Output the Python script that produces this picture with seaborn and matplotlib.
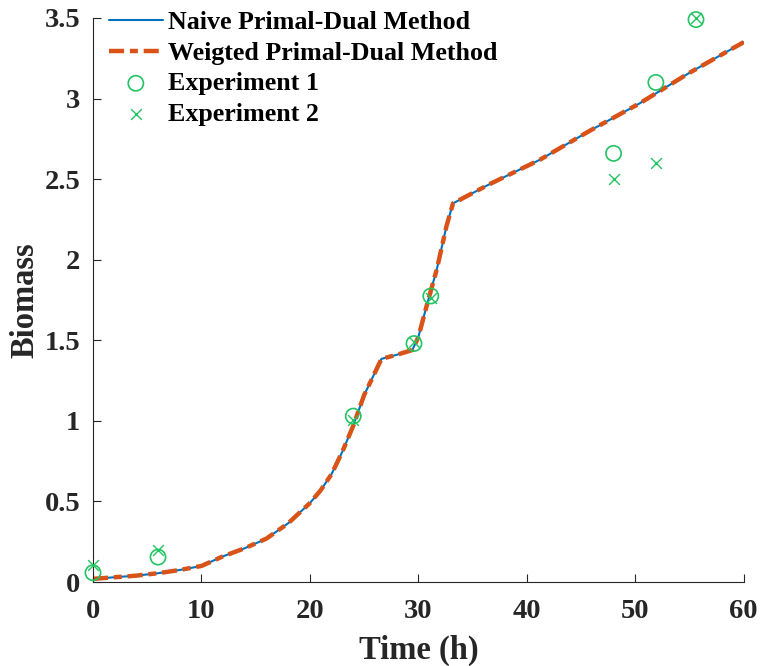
import numpy as np
import pandas as pd
import matplotlib
matplotlib.use('Agg')
import matplotlib.pyplot as plt
import seaborn as sns

# model curve (both methods give the same trajectory)
time_h = [0, 2, 4, 6, 8, 10, 12, 14, 16, 18, 20, 21, 22, 23, 24, 25, 26,
          26.6, 28, 29.45, 30, 30.75, 31.7, 32.6, 33.2, 36.6, 41.2, 45.8,
          50.4, 55.0, 60]
biomass = [0.02, 0.03, 0.04, 0.055, 0.075, 0.10, 0.16, 0.21, 0.27, 0.365,
           0.49, 0.57, 0.67, 0.81, 0.97, 1.16, 1.30, 1.385, 1.41, 1.44,
           1.52, 1.71, 1.94, 2.21, 2.35, 2.47, 2.62, 2.80, 2.97, 3.16, 3.35]

# measurements
exp1_t = [0, 6, 24, 29.6, 31.15, 48, 51.9, 55.6]
exp1_y = [0.058, 0.155, 1.03, 1.48, 1.775, 2.66, 3.10, 3.49]
exp2_t = [0, 6, 24, 29.6, 31.2, 48, 51.9, 55.6]
exp2_y = [0.105, 0.20, 1.005, 1.49, 1.76, 2.50, 2.60, 3.50]

xticks = [0, 10, 20, 30, 40, 50, 60]
yticks = [0, 0.5, 1, 1.5, 2, 2.5, 3, 3.5]
ytick_labels = ['0', '0.5', '1', '1.5', '2', '2.5', '3', '3.5']

sns.set_style('ticks')
plt.rcParams['font.family'] = ['Liberation Serif', 'DejaVu Serif']
plt.rcParams['font.weight'] = 'bold'

blue = '#0072BD'
orange = '#D95319'
green = '#22C463'

fig = plt.figure(figsize=(7.62, 6.66), dpi=100)
ax = fig.add_axes([0.122, 0.126, 0.854, 0.847])

curve = pd.DataFrame({'t': time_h, 'y': biomass})
sns.lineplot(data=curve, x='t', y='y', color=blue, lw=1.5, ax=ax,
             label='Naive Primal-Dual Method')
sns.lineplot(data=curve, x='t', y='y', color=orange, lw=3.2, ax=ax,
             label='Weigted Primal-Dual Method', dashes=False)
ax.lines[-1].set_dashes([3.4, 1.3, 1.8, 1.3])

sns.scatterplot(x=exp1_t, y=exp1_y, marker='o', s=120, facecolor='none',
                edgecolor=green, linewidth=1.2, ax=ax, label='Experiment 1',
                clip_on=False, zorder=5)
sns.scatterplot(x=exp2_t, y=exp2_y, marker='x', s=60, color=green,
                linewidth=1.0, ax=ax, label='Experiment 2',
                clip_on=False, zorder=5)

ax.set_xlim(0, 60)
ax.set_ylim(0, 3.5)
ax.set_xticks(xticks)
ax.set_yticks(yticks)
ax.set_yticklabels(ytick_labels)
ax.tick_params(direction='in', length=6, width=0.8, color='#262626',
               labelsize=20.5, labelcolor='#262626')
ax.tick_params(axis='x', pad=12)
ax.tick_params(axis='y', pad=9)
for lab in ax.get_xticklabels() + ax.get_yticklabels():
    lab.set_fontweight('bold')
for s in ['left', 'bottom']:
    ax.spines[s].set_color('#262626')
    ax.spines[s].set_linewidth(0.8)
sns.despine(ax=ax)

ax.set_xlabel('Time (h)', fontsize=23.5, fontweight='bold', color='#262626',
              labelpad=8)
ax.set_ylabel('Biomass', fontsize=23.5, fontweight='bold', color='#262626',
              labelpad=3)

leg = ax.legend(loc='upper left', bbox_to_anchor=(0.0, 1.04), frameon=False,
                fontsize=18.7, handlelength=2.1, handletextpad=0.2,
                labelspacing=0.28, borderaxespad=0.2)
for t in leg.get_texts():
    t.set_fontweight('bold')
    t.set_color('black')

fig.savefig('out.png', dpi=100)
